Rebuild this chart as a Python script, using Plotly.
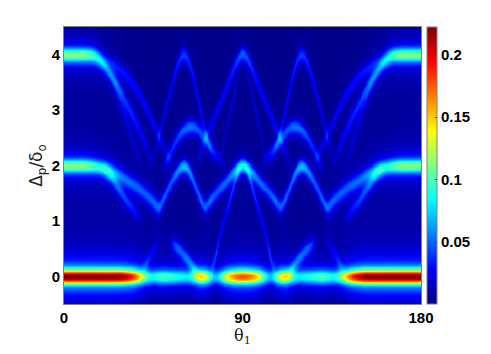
import numpy as np
import plotly.graph_objects as go

# Ridges for theta in [0, 90]; the picture is mirror-symmetric about 90.
band0_t = [0, 28, 33, 37, 40, 44, 50, 57, 63, 66, 69, 72, 75, 78, 81, 85, 90]
band0_d = [0] * 17
band0_a = [.222, .22, .2, .165, .115, .08, .1, .085, .075, .105, .15, .125, .06, .075, .13, .165, .178]

band4_t = [0, 10, 15, 19, 23, 26.8, 30, 33.5, 38.6, 42, 45]
band4_d = [4, 4, 3.99, 3.88, 3.65, 3.45, 3.2, 3.0, 2.6, 2.3, 2.0]
band4_a = [.108, .108, .095, .068, .048, .042, .036, .032, .024, .016, .005]

outer4_t = [16, 23.4, 31.8, 38.6, 47, 52, 56]
outer4_d = [3.98, 3.85, 3.63, 3.27, 2.6, 2.2, 1.9]
outer4_a = [0, .026, .025, .023, .022, .016, 0]

faint4_t = [22, 26, 31.8, 36.9, 39]
faint4_d = [3.75, 3.38, 2.79, 2.19, 1.95]
faint4_a = [0, .018, .016, .01, 0]

band2_t = [0, 10, 15, 22, 28.5, 36.9, 43.6, 47.8]
band2_d = [2, 2, 1.99, 1.94, 1.8, 1.62, 1.41, 1.23]
band2_a = [.108, .108, .095, .068, .05, .045, .045, .05]

branch2_t = [19, 23.4, 30, 36.9, 39]
branch2_d = [1.95, 1.8, 1.44, 1.14, 1.0]
branch2_a = [.02, .04, .035, .02, 0]

arch60a_t = [45, 48.6, 54.5, 58, 60.4, 63, 66.3, 70.4, 75.4]
arch60a_d = [2.13, 2.67, 3.51, 3.95, 4.05, 3.9, 3.4, 2.67, 2.1]
arch60a_a = [.01, .018, .024, .032, .04, .032, .024, .024, .008]

arch90a_t = [66, 71, 77.4, 83, 87, 90]
arch90a_d = [2.0, 2.5, 3.03, 3.55, 3.93, 4.05]
arch90a_a = [.008, .02, .022, .026, .038, .048]

inner90_t = [78.5, 81, 86, 89]
inner90_d = [2.13, 2.6, 3.4, 3.95]
inner90_a = [.004, .013, .016, 0]

mid_t = [50, 52.8, 57, 60, 63.8, 67, 70.4, 75.4, 80]
mid_d = [1.95, 2.19, 2.5, 2.65, 2.72, 2.68, 2.5, 2.26, 2.05]
mid_a = [.015, .028, .036, .046, .052, .042, .04, .028, .01]

arch60b_t = [47.8, 51, 54.5, 58, 60.4, 63, 65.4, 68, 70.5]
arch60b_d = [1.22, 1.48, 1.74, 1.95, 2.02, 1.93, 1.68, 1.45, 1.22]
arch60b_a = [.05, .042, .042, .058, .07, .058, .042, .042, .055]

arch90b_t = [71.4, 76, 82.3, 86, 90]
arch90b_d = [1.26, 1.5, 1.74, 1.93, 2.02]
arch90b_a = [.055, .042, .048, .06, .08]

leg90_t = [74.7, 77, 79.7, 82, 85, 87.3, 89]
leg90_d = [.13, .5, 1.0, 1.2, 1.62, 1.92, 2.0]
leg90_a = [.05, .025, .02, .024, .035, .04, 0]

lower_t = [53, 54.5, 57, 60.4, 63, 66.3, 68.5]
lower_d = [.65, .6, .52, .39, .27, .1, 0]
lower_a = [0, .028, .042, .042, .042, .035, 0]

rise_t = [40, 43, 47, 49]
rise_d = [.13, .35, .6, .75]
rise_a = [.026, .018, .012, 0]

bands = [(band0_t, band0_d, band0_a, .085, .42), (band4_t, band4_d, band4_a, .09, .32), (band2_t, band2_d, band2_a, .09, .32)]
lines = [(outer4_t, outer4_d, outer4_a), (faint4_t, faint4_d, faint4_a),
         (branch2_t, branch2_d, branch2_a), (arch60a_t, arch60a_d, arch60a_a),
         (arch90a_t, arch90a_d, arch90a_a), (inner90_t, inner90_d, inner90_a),
         (mid_t, mid_d, mid_a), (arch60b_t, arch60b_d, arch60b_a),
         (arch90b_t, arch90b_d, arch90b_a), (leg90_t, leg90_d, leg90_a),
         (lower_t, lower_d, lower_a), (rise_t, rise_d, rise_a)]

x_tick_vals = [0, 90, 180]
y_tick_vals = [0, 1, 2, 3, 4]
cbar_tick_vals = [.05, .1, .15, .2]
cbar_tick_text = ["0.05", "0.1", "0.15", "0.2"]
z_min, z_max, z_floor = .0004, .222, .003
jet = [[0, "#00007f"], [.125, "#0000ff"], [.375, "#00ffff"], [.625, "#ffff00"], [.875, "#ff0000"], [1, "#7f0000"]]

th = np.arange(0, 90.25, .5)
dl = np.arange(-.5, 4.505, .02)


def soften(v, n=4):
    k = np.ones(2 * n + 1) / (2 * n + 1)
    return np.convolve(np.pad(v, n, mode="edge"), k, mode="valid")


def add(z, t, d, a, sigma, tail):
    c = soften(np.interp(th, t, d))
    amp = np.interp(th, t, a, left=0, right=a[-1] if t[-1] >= 90 else 0)
    amp = soften(amp, 3)
    u = (dl[:, None] - c[None, :]) / sigma
    z += amp[None, :] * ((1 - tail) * np.exp(-.5 * u * u) + tail / (1 + (u / 2.5) ** 2))


z = np.full((dl.size, th.size), z_floor)
for t, d, a, sigma, tail in bands:
    add(z, t, d, a, sigma, tail)
for t, d, a in lines:
    add(z, t, d, a, .09, .12)
z = np.hstack([z, z[:, -2::-1]])
theta = np.concatenate([th, 180 - th[-2::-1]])

tick_font = dict(family="Liberation Sans", size=15, color="black", weight="bold")
fig = go.Figure(go.Heatmap(
    x=theta, y=dl, z=np.round(np.clip(z, z_min, z_max), 4), zmin=z_min, zmax=z_max,
    colorscale=jet, zsmooth="best",
    colorbar=dict(x=1.018, xanchor="left", xpad=0, ypad=0, y=.5, yanchor="middle", len=1, lenmode="fraction",
                  thickness=10, thicknessmode="pixels", outlinecolor="#808080", outlinewidth=1,
                  tickvals=cbar_tick_vals, ticktext=cbar_tick_text, ticks="inside", ticklen=2, tickcolor="#333",
                  tickfont=tick_font),
))
fig.update_layout(
    width=491, height=354, margin=dict(l=64, r=70, t=27, b=50, autoexpand=False),
    paper_bgcolor="white", plot_bgcolor="white",
    xaxis=dict(range=[0, 180], tickvals=x_tick_vals, ticks="", tickfont=tick_font, showgrid=False, zeroline=False,
               showline=True, linecolor="#808080", mirror=True,
               title=dict(text="θ<sub>1</sub>", standoff=1, font=dict(family="DejaVu Serif", size=16, color="#222"))),
    yaxis=dict(range=[-.5, 4.5], tickvals=y_tick_vals, ticks="", tickfont=tick_font, showgrid=False, zeroline=False,
               showline=True, linecolor="#808080", mirror=True,
               title=dict(text="Δ<sub>p</sub>/δ<sub>o</sub>", standoff=4, font=dict(family="DejaVu Sans", size=17, color="#222"))),
)
fig.write_html("out.html", post_script="document.body.style.margin='0';", config=dict(displayModeBar=False))
